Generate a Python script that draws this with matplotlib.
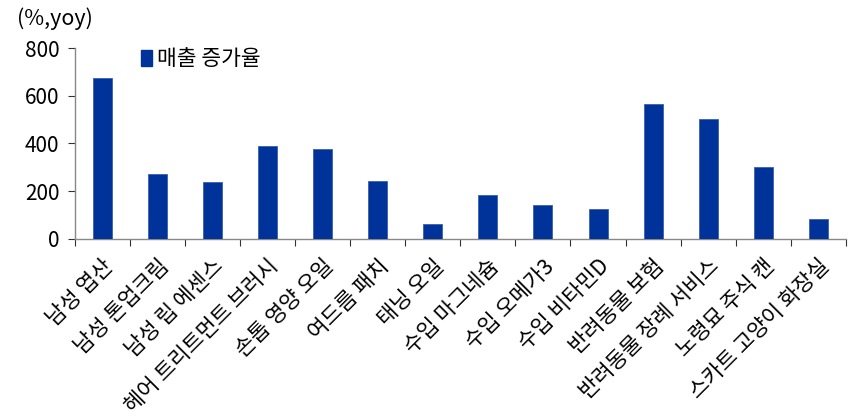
import matplotlib
matplotlib.use("Agg")
import matplotlib.pyplot as plt
import numpy as np
from matplotlib.patches import Patch

plt.rcParams['font.family'] = ['Noto Sans CJK KR', 'DejaVu Sans']

categories = ['남성 엽산', '남성 톤업크림', '남성 립 에센스', '헤어 트리트먼트 브러시',
              '손톱 영양 오일', '여드름 패치', '태닝 오일', '수입 마그네슘', '수입 오메가3',
              '수입 비타민D', '반려동물 보험', '반려동물 장례 서비스', '노령묘 주식 캔',
              '스카트 고양이 화장실']
values = [676, 272, 237, 390, 376, 244, 63, 182, 140, 125, 565, 503, 303, 82]
yticks = [0, 200, 400, 600, 800]
series_name = '매출 증가율'
unit_label = '(%,yoy)'

color = '#003399'
fig = plt.figure(figsize=(8.51, 4.17), dpi=100)
ax = fig.add_axes([0.0878, 0.4276, 0.9062, 0.4566])

x = np.arange(len(categories))
ax.bar(x, values, width=0.345, color=color, edgecolor='#3a5fb0', linewidth=0.6, zorder=3)

ax.set_xlim(-0.5, len(categories) - 0.5)
ax.set_ylim(0, 800)
ax.set_yticks(yticks)
ax.set_yticklabels([str(v) for v in yticks], fontsize=15)

ax.set_xticks(x)
ax.set_xticklabels(categories, rotation=45, ha='right', va='top',
                   rotation_mode='anchor', fontsize=15.5)
ax.tick_params(axis='x', which='major', length=0, pad=12)
ax.set_xticks(np.arange(-0.5, len(categories)), minor=True)
ax.tick_params(axis='x', which='minor', length=5, color='#333333', width=0.8, direction='out')
ax.tick_params(axis='y', length=5, color='#333333', width=0.8, direction='out', pad=6)

for s in ['top', 'right']:
    ax.spines[s].set_visible(False)
for s in ['left', 'bottom']:
    ax.spines[s].set_color('#888888')
    ax.spines[s].set_linewidth(1.0)

fig.text(0.020, 0.955, unit_label, fontsize=15.5, ha='left', va='center')

leg = ax.legend(handles=[Patch(facecolor=color, edgecolor=color, label=series_name)],
                loc='upper left', bbox_to_anchor=(0.075, 1.045), frameon=False,
                fontsize=15.5, handlelength=0.5, handleheight=0.75, handletextpad=0.25,
                borderaxespad=0)

fig.savefig('out.png', dpi=100)
